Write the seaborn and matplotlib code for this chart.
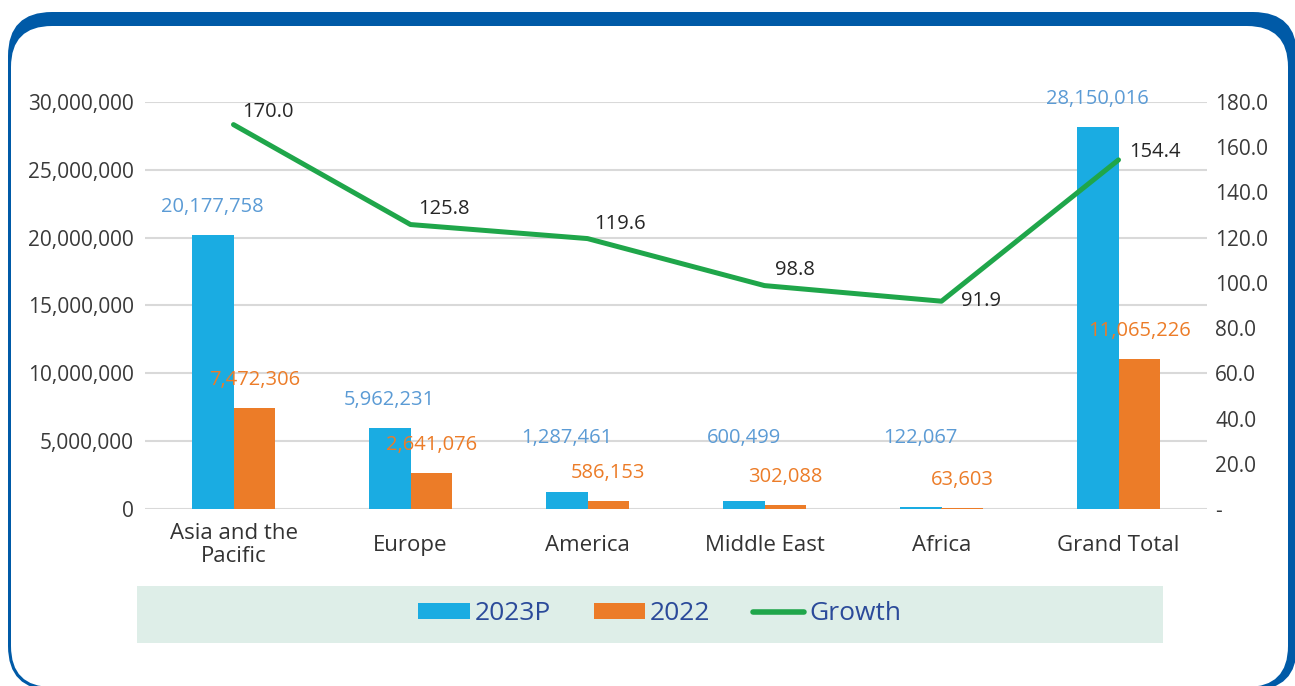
import matplotlib
matplotlib.use("Agg")
import matplotlib.pyplot as plt
from matplotlib.patches import FancyBboxPatch, Patch, Rectangle
from matplotlib.lines import Line2D
import numpy as np
import pandas as pd
import seaborn as sns

# data
regions = ["Asia and the\nPacific", "Europe", "America", "Middle East", "Africa", "Grand Total"]
arrivals_2023p = [20177758, 5962231, 1287461, 600499, 122067, 28150016]
arrivals_2022 = [7472306, 2641076, 586153, 302088, 63603, 11065226]
growth = [170.0, 125.8, 119.6, 98.8, 91.9, 154.4]
series_names = ["2023P", "2022"]
left_ticks = [0, 5000000, 10000000, 15000000, 20000000, 25000000, 30000000]
right_ticks = [0, 20, 40, 60, 80, 100, 120, 140, 160, 180]

BLUE = "#1AACE2"
ORANGE = "#EC7C28"
GREEN = "#1FA64A"
FRAME = "#005AA7"

sns.set_style("white")
plt.rcParams["font.family"] = ["Open Sans", "DejaVu Sans"]

W, H = 1295, 686
fig = plt.figure(figsize=(W / 100, H / 100), dpi=100)

# background frame drawn in pixel coordinates
bg = fig.add_axes([0, 0, 1, 1], zorder=-10)
bg.set_xlim(0, W)
bg.set_ylim(H, 0)
bg.axis("off")
r_out, r_in = 44, 41
bg.add_patch(FancyBboxPatch((8 + r_out, 12 + r_out), 1297 - 8 - 2 * r_out, 690 - 12 - 2 * r_out,
                            boxstyle=f"round,pad={r_out}", fc=FRAME, ec="none"))
bg.add_patch(FancyBboxPatch((11 + r_in, 26 + r_in), 1288 - 11 - 2 * r_in, 687 - 26 - 2 * r_in,
                            boxstyle=f"round,pad={r_in}", fc="white", ec="none"))
# legend band
bg.add_patch(Rectangle((137, 586), 1163 - 137, 643 - 586, fc="#DEEEE8", ec="none"))

df = pd.DataFrame({
    "region": regions * 2,
    "value": arrivals_2023p + arrivals_2022,
    "series": [series_names[0]] * len(regions) + [series_names[1]] * len(regions),
})

ax = fig.add_axes([145 / W, 1 - 509 / H, (1207 - 145) / W, (509 - 102) / H])
sns.barplot(data=df, x="region", y="value", hue="series", palette=[BLUE, ORANGE],
            width=0.47, gap=0, dodge=True, ax=ax, legend=False, saturation=1,
            linewidth=0)
ax.set_xlim(-0.5, len(regions) - 0.5)
ax.set_ylim(0, 30000000)
ax.set_yticks(left_ticks)
ax.set_yticklabels([f"{v:,}" for v in left_ticks])
ax.set_xlabel("")
ax.set_ylabel("")
ax.grid(axis="y", color="#D9D9D9", lw=1.5)
ax.set_axisbelow(True)
for s in ax.spines.values():
    s.set_visible(False)
ax.tick_params(axis="y", length=0, pad=8, labelsize=15, labelcolor="#3A3A3A")
ax.tick_params(axis="x", length=0, pad=26, labelsize=16, labelcolor="#333333")
for t in ax.get_xticklabels():
    t.set_linespacing(1.12)
    t.set_va("center")

# value labels above the bars
label_colors = ["#5B9BD5", ORANGE]
min_anchor = [3200000, 0]
for k, cont in enumerate(ax.containers):
    for bar, v in zip(cont, [arrivals_2023p, arrivals_2022][k]):
        cx = bar.get_x() + bar.get_width() / 2
        ax.annotate(f"{v:,}", (cx, max(v, min_anchor[k])), xytext=(0, 28),
                    textcoords="offset pixels", ha="center", va="center",
                    fontsize=14.5, color=label_colors[k])

ax2 = ax.twinx()
sns.lineplot(x=np.arange(len(regions)), y=growth, ax=ax2, color=GREEN, lw=3.6)
ax2.set_ylim(0, 180)
ax2.set_yticks(right_ticks)
ax2.set_yticklabels(["-" if v == 0 else f"{v:.1f}" for v in right_ticks])
ax2.tick_params(axis="y", length=0, pad=6, labelsize=15, labelcolor="#3A3A3A")
for s in ax2.spines.values():
    s.set_visible(False)
ax2.grid(False)

growth_offsets = [(34, 13), (33, 16), (32, 15), (30, 16), (40, 0), (36, 8)]
for i, (g, off) in enumerate(zip(growth, growth_offsets)):
    ax2.annotate(f"{g:.1f}", (i, g), xytext=off, textcoords="offset pixels",
                 ha="center", va="center", fontsize=14.5, color="#262626")

handles = [Patch(fc=BLUE, ec="none"), Patch(fc=ORANGE, ec="none"),
           Line2D([], [], color=GREEN, lw=4)]
fig.legend(handles, ["2023P", "2022", "Growth"], loc="center",
           bbox_to_anchor=(660 / W, 1 - 614 / H), ncol=3, frameon=False,
           labelcolor="#2B4A9A", handlelength=1.95, handleheight=0.55,
           columnspacing=1.6, handletextpad=0.2,
           prop={"family": ["Open Sans", "DejaVu Sans"], "size": 19})

fig.savefig("out.png", dpi=100)
